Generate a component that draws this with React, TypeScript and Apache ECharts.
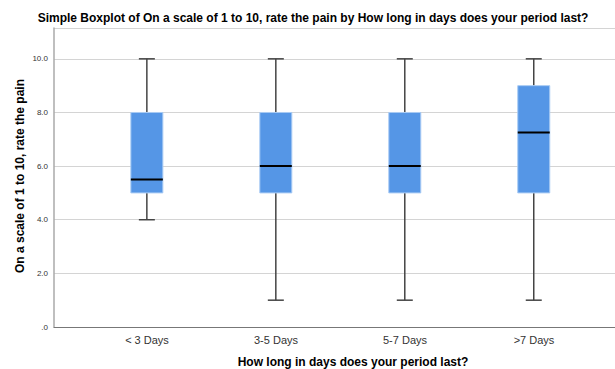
import React, { useEffect, useRef } from "react";
import * as echarts from "echarts";

const categories = ["< 3 Days", "3-5 Days", "5-7 Days", ">7 Days"];
// [min, q1, median, q3, max]
const boxStats = [
  [4, 5, 5.5, 8, 10],
  [1, 5, 6, 8, 10],
  [1, 5, 6, 8, 10],
  [1, 5, 7.25, 9, 10],
];
const yTicks = [0, 2, 4, 6, 8, 10];

const titleText =
  "Simple Boxplot of On a scale of 1 to 10, rate the pain by How long in days does your period last?";
const xName = "How long in days does your period last?";
const yName = "On a scale of 1 to 10, rate the pain";

export default function App() {
  const ref = useRef<HTMLDivElement>(null);
  useEffect(() => {
    if (!ref.current) return;
    const chart = echarts.init(ref.current, null, { renderer: "svg" });
    const font = "Liberation Sans, Arial, sans-serif";
    chart.setOption({
      animation: false,
      backgroundColor: "#ffffff",
      grid: [
        { left: 54, right: 0, top: 28, bottom: 42, containLabel: false },
        { left: 82.5, width: 516, top: 28, bottom: 42, containLabel: false },
      ],
      xAxis: [
        {
          type: "value",
          gridIndex: 0,
          min: -0.72,
          max: 3.63,
          splitLine: { show: false },
          axisTick: { show: false },
          axisLine: { show: true, onZero: false, lineStyle: { color: "#777777", width: 1 } },
          axisLabel: { show: false },
        },
        {
          type: "category",
          gridIndex: 1,
          data: categories,
          boundaryGap: true,
          axisLine: { show: false },
          axisTick: { show: false },
          splitLine: { show: false },
          axisLabel: {
            color: "#333333",
            fontSize: 11,
            fontFamily: font,
            margin: 7,
          },
        },
      ],
      yAxis: [
        {
          type: "value",
          gridIndex: 0,
          min: 0,
          max: 11.15,
          interval: 2,
          axisLine: { show: true, onZero: false, lineStyle: { color: "#aaaaaa", width: 1.5 } },
          axisTick: { show: false },
          splitLine: { show: true, lineStyle: { color: "#d4d4d4", width: 1 } },
          axisLabel: {
            color: "#333333",
            fontSize: 8,
            fontFamily: font,
            margin: 6,
            showMaxLabel: false,
            formatter: (v: number) =>
              yTicks.includes(v) ? (v === 0 ? ".0" : v.toFixed(1)) : "",
          },
        },
        {
          type: "value",
          gridIndex: 1,
          min: 0,
          max: 11.15,
          show: false,
        },
      ],
      graphic: [
        {
          type: "text",
          x: 313,
          y: 18,
          style: {
            text: titleText,
            font: "bold 12px " + font,
            fill: "#000000",
            align: "center",
            verticalAlign: "middle",
          },
        },
        {
          type: "text",
          x: 353,
          y: 362,
          style: {
            text: xName,
            font: "bold 12px " + font,
            fill: "#000000",
            align: "center",
            verticalAlign: "middle",
          },
        },
        {
          type: "text",
          x: 20,
          y: 176,
          rotation: Math.PI / 2,
          style: {
            text: yName,
            font: "bold 12px " + font,
            fill: "#000000",
            align: "center",
            verticalAlign: "middle",
          },
        },
      ],
      series: [
        {
          type: "custom",
          xAxisIndex: 0,
          yAxisIndex: 0,
          data: boxStats.map((s, i) => [i, ...s]),
          encode: { x: 0, y: [1, 2, 3, 4, 5] },
          renderItem: (params: any, api: any) => {
            const x = api.value(0);
            const pMin = api.coord([x, api.value(1)]);
            const pQ1 = api.coord([x, api.value(2)]);
            const pMed = api.coord([x, api.value(3)]);
            const pQ3 = api.coord([x, api.value(4)]);
            const pMax = api.coord([x, api.value(5)]);
            const bw = 32;
            const cw = 16;
            const cx = pMed[0];
            const wStyle = { stroke: "#444444", lineWidth: 1.5 };
            return {
              type: "group",
              children: [
                { type: "line", shape: { x1: cx, y1: pQ3[1], x2: cx, y2: pMax[1] }, style: wStyle },
                { type: "line", shape: { x1: cx, y1: pQ1[1], x2: cx, y2: pMin[1] }, style: wStyle },
                { type: "line", shape: { x1: cx - cw / 2, y1: pMax[1], x2: cx + cw / 2, y2: pMax[1] }, style: wStyle },
                { type: "line", shape: { x1: cx - cw / 2, y1: pMin[1], x2: cx + cw / 2, y2: pMin[1] }, style: wStyle },
                {
                  type: "rect",
                  shape: { x: cx - bw / 2, y: pQ3[1], width: bw, height: pQ1[1] - pQ3[1] },
                  style: { fill: "#5596e6", stroke: "#a9cbf4", lineWidth: 1 },
                },
                {
                  type: "line",
                  shape: { x1: cx - bw / 2, y1: pMed[1], x2: cx + bw / 2, y2: pMed[1] },
                  style: { stroke: "#000000", lineWidth: 2 },
                },
              ],
            };
          },
        },
      ],
    });
    return () => chart.dispose();
  }, []);
  return <div ref={ref} style={{ width: 615, height: 369, position: "absolute", left: 0, top: 0 }} />;
}
